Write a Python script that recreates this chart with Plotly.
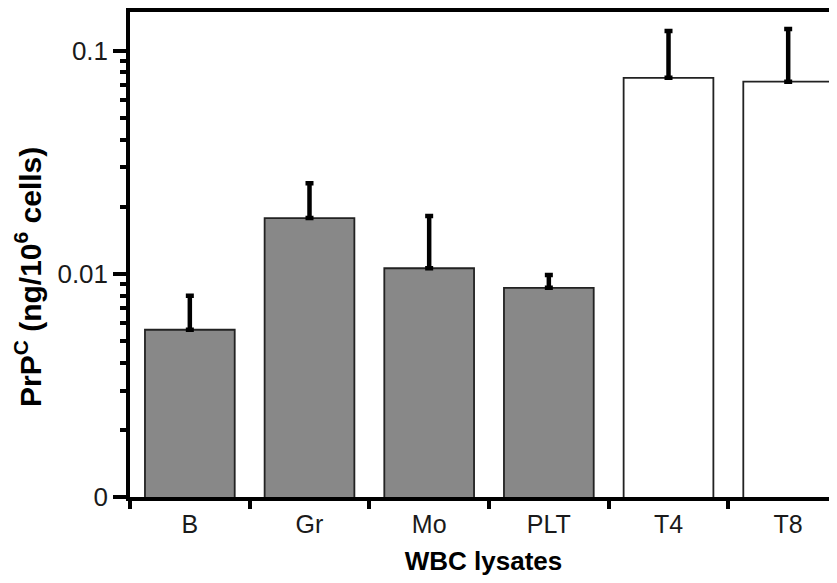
import plotly.graph_objects as go

categories = ["B", "Gr", "Mo", "PLT", "T4", "T8"]
values = [0.00562, 0.0178, 0.0106, 0.00866, 0.0757, 0.0727]
err_upper = [0.00798, 0.0255, 0.0182, 0.0099, 0.1228, 0.1254]
bar_colors = ["#888888", "#888888", "#888888", "#888888", "#ffffff", "#ffffff"]
y_tick_vals = [0.001, 0.01, 0.1]
y_tick_text = ["0", "0.01", "0.1"]
y_minor_vals = [m * d for d in (0.001, 0.01) for m in range(2, 10)]
y_title = "<b>PrP<sup>C</sup> (ng/10<sup>6</sup> cells)</b>"
x_title = "<b>WBC lysates</b>"

x_pos = list(range(len(categories)))
err_plus = [e - v for e, v in zip(err_upper, values)]

fig = go.Figure()
fig.add_trace(go.Bar(
    x=x_pos, y=values,
    marker=dict(color=bar_colors, line=dict(color="#222222", width=1.8)),
    width=0.75,
    error_y=dict(type="data", array=err_plus, arrayminus=[0] * len(values),
                 symmetric=False, color="#000000", thickness=4.5, width=4),
    showlegend=False,
))

font_family = "Liberation Sans, Arial, sans-serif"
# the page body adds an 8px margin, so the figure is offset by 8px
fig.update_layout(
    width=829, height=575,
    margin=dict(l=122, r=0, t=4, b=86),
    plot_bgcolor="white", paper_bgcolor="white",
    font=dict(family=font_family, color="#1a1a1a", size=26),
    xaxis=dict(
        type="linear", range=[-0.5, 5.408],
        tickmode="array", tickvals=x_pos, ticktext=categories,
        ticks="outside", ticklen=2, tickcolor="rgba(0,0,0,0)",
        tickfont=dict(size=25),
        minor=dict(tickmode="array", tickvals=[i - 0.5 for i in range(len(categories))],
                   ticks="outside", ticklen=8, tickwidth=4, tickcolor="#000000"),
        showline=True, linecolor="#000000", linewidth=3.5, mirror=True,
        showgrid=False, zeroline=False,
        title=dict(text=x_title, font=dict(size=26, color="#000000"), standoff=16),
    ),
    yaxis=dict(
        type="log", range=[-3, -0.826],
        tickmode="array", tickvals=y_tick_vals, ticktext=y_tick_text,
        ticks="outside", ticklen=13, tickwidth=3.5, tickcolor="#000000",
        tickfont=dict(size=26),
        minor=dict(tickmode="array", tickvals=y_minor_vals,
                   ticks="outside", ticklen=6, tickwidth=3.5, tickcolor="#000000"),
        showline=True, linecolor="#000000", linewidth=3.5, mirror=False,
        showgrid=False, zeroline=False,
    ),
    annotations=[dict(
        text=y_title, textangle=-90, showarrow=False,
        xref="paper", yref="paper", x=0, y=0.4536,
        xanchor="center", yanchor="middle", xshift=-102,
        font=dict(size=30, color="#000000", family=font_family),
    )],
)

fig.write_html("out.html")
